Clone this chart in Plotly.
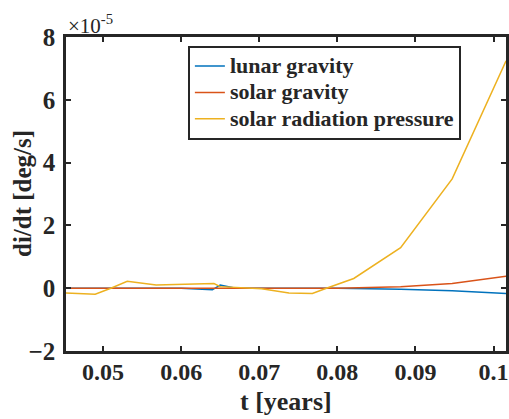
import plotly.graph_objects as go

# values in units of 1e-5 deg/s
t_srp = [0.0450, 0.0490, 0.0510, 0.0531, 0.0568, 0.0608, 0.0642, 0.0650, 0.0680, 0.0703, 0.0738, 0.0768, 0.0786, 0.0821, 0.0881, 0.0947, 0.1016]
srp = [-0.15, -0.19, 0.0, 0.22, 0.10, 0.12, 0.15, 0.05, 0.02, -0.02, -0.15, -0.17, 0.0, 0.31, 1.29, 3.48, 7.24]

t_lunar = [0.0450, 0.0600, 0.0640, 0.0650, 0.0670, 0.0800, 0.0881, 0.0947, 0.1016]
lunar = [0.0, 0.0, -0.05, 0.10, 0.0, 0.0, -0.03, -0.08, -0.17]

t_solar = [0.0450, 0.0800, 0.0881, 0.0947, 0.1016]
solar = [0.0, 0.0, 0.05, 0.15, 0.38]

names = ["lunar gravity", "solar gravity", "solar radiation pressure"]
colors = ["#0072BD", "#D95319", "#EDB120"]

x_ticks = [0.05, 0.06, 0.07, 0.08, 0.09, 0.1]
x_ticklabels = ["0.05", "0.06", "0.07", "0.08", "0.09", "0.1"]
y_ticks = [-2, 0, 2, 4, 6, 8]

font_family = "Liberation Serif"
ink = "#262626"

fig = go.Figure()
for xs, ys, n, c in zip([t_lunar, t_solar, t_srp], [lunar, solar, srp], names, colors):
    fig.add_trace(go.Scatter(x=xs, y=ys, mode="lines",
                             name='<span style="font-size:22px">' + n + '</span>',
                             line=dict(color=c, width=1.5)))

axis_common = dict(
    showline=True, linecolor=ink, linewidth=2.5, mirror="ticks",
    ticks="inside", ticklen=5, tickwidth=2, tickcolor=ink,
    showgrid=False, zeroline=False, automargin=False,
    ticklabeloverflow="allow",
)

fig.update_layout(
    width=509, height=419,
    margin=dict(l=66, r=3, t=37, b=68),
    paper_bgcolor="white", plot_bgcolor="white",
    font=dict(family=font_family, color=ink),
    showlegend=True,
    legend=dict(
        x=0.277, y=0.972, xanchor="left", yanchor="top",
        bordercolor=ink, borderwidth=2, bgcolor="white",
        font=dict(family=font_family, size=18, color=ink, weight="bold"),
        tracegroupgap=0,
    ),
    xaxis=dict(range=[0.04526, 0.10159], tickvals=x_ticks, ticktext=x_ticklabels,
               ticklabelstandoff=-3,
               tickfont=dict(family=font_family, size=24, color=ink, weight="bold"),
               **axis_common),
    yaxis=dict(range=[-2, 8], tickvals=y_ticks, ticklabelstandoff=3,
               tickfont=dict(family=font_family, size=25, color=ink, weight="bold"),
               **axis_common),
)

fig.add_annotation(
    xref="paper", yref="paper", x=0.5, y=-0.162, xanchor="center", yanchor="middle",
    text="t [years]", showarrow=False,
    font=dict(family=font_family, size=26, color=ink, weight="bold"),
)
fig.add_annotation(
    xref="paper", yref="paper", x=-0.1, y=0.5, xanchor="center", yanchor="middle",
    text="di/dt [deg/s]", showarrow=False, textangle=-90,
    font=dict(family=font_family, size=25, color=ink, weight="bold"),
)
fig.add_annotation(
    xref="paper", yref="paper", x=0.0, y=1.0, xanchor="left", yanchor="bottom",
    text="×10<sup>-5</sup>", showarrow=False, xshift=0, yshift=-3,
    font=dict(family=font_family, size=21, color=ink),
)

fig.write_html("out.html", config={"displayModeBar": False},
               post_script="document.body.style.margin='0';")
